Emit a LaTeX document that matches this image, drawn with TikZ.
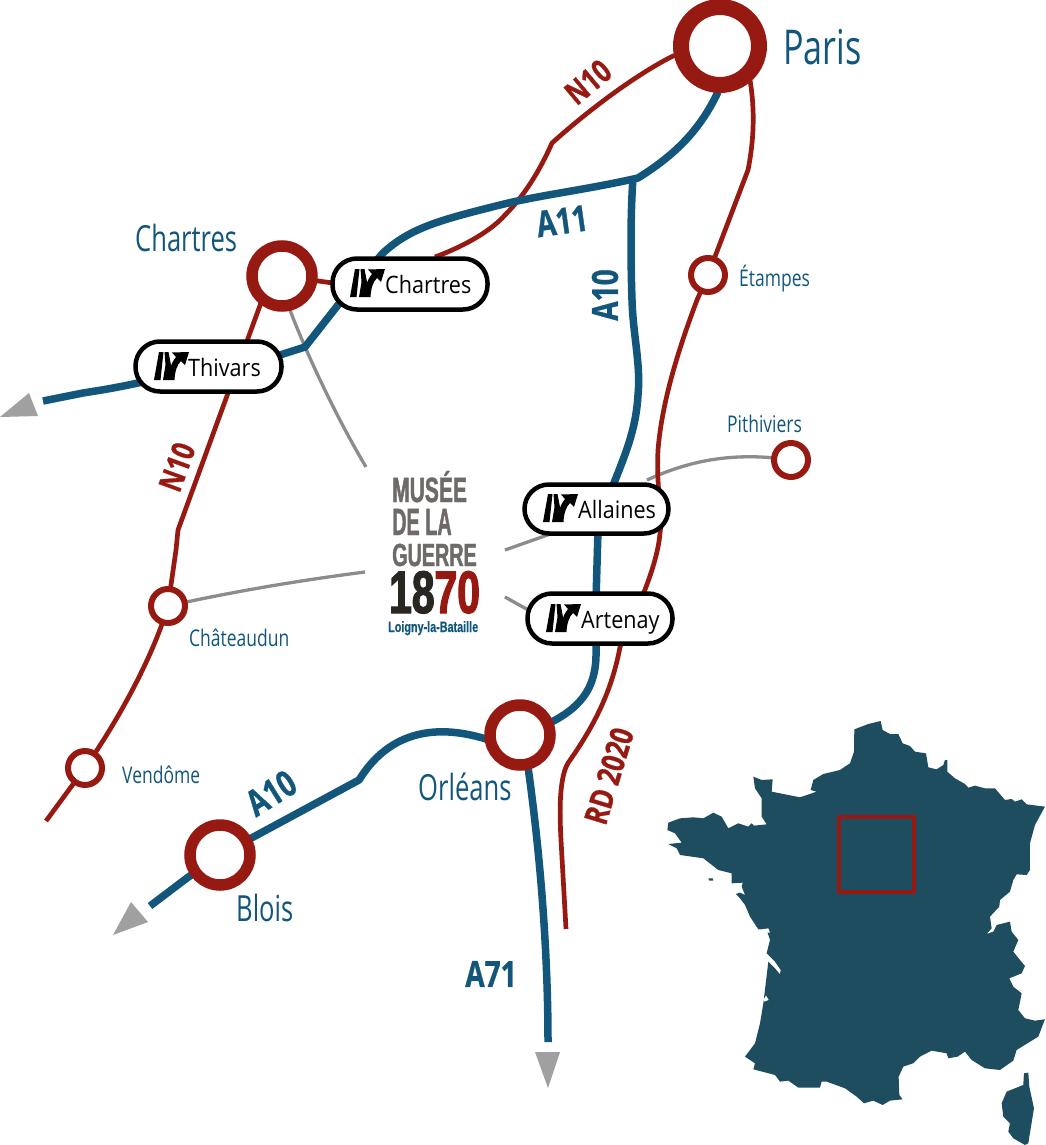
\documentclass[tikz,border=0pt]{standalone}
\usepackage{graphicx}
\usepackage{fontspec}
\setmainfont{Open Sans}
\newfontfamily\condf[FakeStretch=0.71]{Open Sans}
\newfontfamily\smallf[FakeStretch=0.76]{Open Sans}
\newfontfamily\roadf[FakeStretch=0.78,FakeBold=0.8]{Open Sans}
\newfontfamily\pillf[FakeStretch=0.9]{Open Sans}
\newfontfamily\logof[FakeStretch=0.6,FakeBold=1.2]{Liberation Sans}
\newfontfamily\logot[FakeStretch=0.72,FakeBold=0.6]{Liberation Sans}
\newfontfamily\logonum[FakeStretch=0.68,FakeBold=2]{Liberation Sans}
\definecolor{rred}{HTML}{971A12}
\definecolor{rblue}{HTML}{12567C}
\definecolor{mapblue}{HTML}{1E4D60}
\definecolor{lgrey}{HTML}{8C8C8C}
\definecolor{agrey}{HTML}{A0A0A0}
\definecolor{logog}{HTML}{6D6A68}
\definecolor{logok}{HTML}{2A2622}
\tikzset{
 bluer/.style={draw=rblue,line width=7.5pt,line join=round},
 redr/.style={draw=rred,line width=4.7pt,line join=round},
 greyr/.style={draw=lgrey,line width=3.3pt},
 bigcity/.style={circle,draw=rred,fill=white,line width=11.5pt,minimum size=60pt,inner sep=0pt},
 hugecity/.style={circle,draw=rred,fill=white,line width=16pt,minimum size=78pt,inner sep=0pt},
 smallcity/.style={circle,draw=rred,fill=white,line width=6pt,minimum size=34pt,inner sep=0pt},
 pill/.style={draw=black,fill=white,line width=4.5pt,rounded corners=24.5pt,inner sep=0pt},
 pilltext/.style={font=\pillf\fontsize{24}{24}\selectfont,inner sep=0pt,anchor=base west,text=black},
 citylabel/.style={font=\condf\fontsize{36}{36}\selectfont,text=rblue,inner sep=0pt},
 smalllabel/.style={font=\smallf\fontsize{23}{23}\selectfont,text=rblue,inner sep=0pt},
 roadb/.style={font=\roadf\bfseries\fontsize{36}{36}\selectfont,text=rblue,inner sep=0pt},
 roadr/.style={font=\roadf\bfseries\fontsize{32}{32}\selectfont,text=rred,inner sep=0pt},
 tip/.style={fill=agrey,draw=none},
 logol/.style={inner sep=0pt,anchor=base west},
 exiticon/.pic={
  \fill[black] (5,0)--(9.5,0)--(6.5,28)--(0,28)--cycle;
  \fill[black] (10.5,0)--(14.5,0)--(17,13)--(16,28)--(9,28)--(11.5,13)--cycle;
  \fill[black] (18,0.5)--(35,0)--(31,13)--(27,9)..controls (23,13) and (21,19)..(20.5,28)--(16,28)--(16,18)..controls (17,12) and (19,9)..(22,5)--cycle;
 }
}
\begin{document}
\begin{tikzpicture}[x=1pt,y=-1pt]
\useasboundingbox (0,0) rectangle (1046,1145);

% France
\begin{scope}[shift={(660,710)},x=0.3333pt,y=-0.3333pt]
\fill[mapblue] (583,58)--(625,42)--(662,33)--(668,60)--(690,72)--(715,72)--(728,100)--(750,108)--(765,125)--(798,130)--(805,172)--(830,178)--(850,165)--(855,150)--(862,150)--(862,185)--(885,205)--(915,222)--(925,233)--(945,227)--(975,235)--(1005,235)--(1035,270)--(1055,267)--(1065,275)--(1085,268)--(1100,283)--(1155,290)--(1125,345)--(1110,400)--(1110,480)--(1100,495)--(1070,493)--(1060,510)--(1050,545)--(1020,570)--(1018,590)--(990,620)--(995,655)--(980,672)--(1000,665)--(1010,645)--(1050,635)--(1055,665)--(1075,690)--(1060,725)--(1080,750)--(1095,768)--(1085,790)--(1048,805)--(1060,830)--(1085,850)--(1075,900)--(1095,925)--(1125,932)--(1155,928)--(1135,980)--(1070,1020)--(1060,1052)--(1020,1080)--(975,1075)--(935,1050)--(915,1025)--(893,1040)--(865,1045)--(860,1030)--(815,1022)--(780,1040)--(760,1060)--(730,1070)--(716,1100)--(718,1155)--(728,1168)--(690,1172)--(668,1185)--(640,1172)--(612,1180)--(590,1160)--(555,1135)--(500,1115)--(485,1115)--(480,1133)--(415,1133)--(385,1112)--(360,1115)--(345,1095)--(295,1082)--(280,1078)--(285,1060)--(255,1040)--(285,1000)--(300,940)--(310,880)--(325,755)--(345,775)--(360,793)--(362,780)--(345,755)--(320,730)--(330,690)--(320,660)--(295,658)--(270,620)--(255,585)--(240,565)--(228,552)--(240,548)--(255,555)--(245,530)--(248,518)--(215,520)--(215,490)--(175,480)--(130,445)--(60,435)--(50,415)--(25,402)--(65,398)--(45,370)--(22,360)--(25,338)--(60,325)--(100,322)--(130,325)--(160,308)--(185,320)--(205,355)--(235,340)--(265,350)--(275,340)--(282,347)--(320,343)--(305,320)--(305,265)--(285,235)--(280,200)--(305,210)--(338,208)--(335,245)--(350,248)--(420,262)--(470,245)--(452,240)--(460,210)--(490,192)--(540,180)--(570,160)--(582,125)--cycle;
\fill[mapblue] (1092,1090)--(1105,1088)--(1108,1130)--(1122,1195)--(1105,1300)--(1095,1305)--(1060,1285)--(1045,1265)--(1050,1240)--(1030,1220)--(1025,1180)--(1040,1145)--(1090,1125)--cycle;
\fill[mapblue] (145,505)--(158,505)--(160,512)--(148,512)--cycle;
\fill[white] (310,870)--(318,857)--(326,870)--(312,875)--cycle;
\fill[white] (295,660)--(325,655)--(330,668)--(308,668)--cycle;
\draw[rred,line width=4pt] (538,322) rectangle (761,545);
\end{scope}

% Named places
\coordinate (parisC) at (720,46);
\coordinate (chartresC) at (282,276);
\coordinate (orleansC) at (520,735);
\coordinate (bloisC) at (220,855);
\coordinate (etampesC) at (708,275);
\coordinate (pithC) at (791,460);
\coordinate (chatC) at (168,606);
\coordinate (vendC) at (85,768);
\coordinate (a11a10) at (638,178);
\coordinate (endA11) at (43,401);
\coordinate (endA10) at (150,906);
\coordinate (endA71) at (548,1042);
\coordinate (endN10) at (46,821);
\coordinate (endRD) at (566,929);

% grey links
\draw[greyr] (chartresC)--(290,310) .. controls (305,350) and (335,415) .. (366,467);
\draw[greyr] (505,550)--(556,532);
\draw[greyr] (chatC) .. controls (240,590) and (310,579) .. (365,572);
\draw[greyr] (505,597)--(530,611);
\draw[greyr] (647,480) .. controls (680,465) and (725,450) .. (pithC);

% red roads
\draw[redr] (parisC)--(673,56) .. controls (645,70) and (600,100) .. (552,143)
   .. controls (540,170) and (525,195) .. (505,215) .. controls (490,232) and (462,247) .. (435,257);
\draw[redr] (750,80) .. controls (755,110) and (754,140) .. (748,170) -- (etampesC) -- (697,300)
   .. controls (680,345) and (662,400) .. (658,450) .. controls (656,490) and (663,515) .. (660,533)
   .. controls (657,570) and (632,620) .. (620,647) .. controls (612,690) and (595,725) .. (568,763)
   .. controls (558,780) and (560,820) .. (561,840) -- (endRD);
\draw[redr] (chartresC)--(262,300)--(178,530)--(176,550)--(chatC)
   .. controls (155,650) and (125,710) .. (vendC)--(endN10);
\draw[redr] (chartresC)--(340,284);

% blue roads
\draw[bluer] (718,92) .. controls (700,130) and (675,155) .. (a11a10)
   .. controls (585,190) and (540,195) .. (500,205) .. controls (440,220) and (410,228) .. (383,253)
   -- (338,305) -- (305,347) -- (280,355) -- (138,383) .. controls (110,389) and (95,391) .. (83,393) -- (endA11);
\draw[bluer] (633,178) .. controls (630,220) and (631,270) .. (632,300) .. controls (633,335) and (641,365) .. (638,395)
   .. controls (636,430) and (625,455) .. (612,488) -- (598,530) -- (596,600) -- (596,650)
   .. controls (597,690) and (580,715) .. (orleansC);
\draw[bluer] (orleansC)--(486,739) .. controls (450,728) and (395,722) .. (359,780) -- (bloisC) -- (187,878) -- (endA10);
\draw[bluer] (orleansC)--(527,760) .. controls (540,850) and (548,950) .. (endA71);

% arrow tips
\fill[tip] (0,417)--(38,416)--(29,393)--cycle;
\fill[tip] (113,935)--(148,922)--(131,902)--cycle;
\fill[tip] (535,1052)--(560,1052)--(548,1088)--cycle;

% cities
\node[hugecity] (paris) at (parisC) {};
\node[bigcity] (chartres) at (chartresC) {};
\node[bigcity] (orleans) at (orleansC) {};
\node[bigcity] (blois) at (bloisC) {};
\node[smallcity] (etampes) at (etampesC) {};
\node[smallcity] (pith) at (pithC) {};
\node[smallcity] (chat) at (chatC) {};
\node[smallcity] (vend) at (vendC) {};

% exits
\node[pill,minimum width=155pt,minimum height=51pt] (xchartres) at (410,284) {};
\node[pill,minimum width=146pt,minimum height=50pt] (xthivars) at (208.5,366.5) {};
\node[pill,minimum width=144pt,minimum height=49pt] (xallaines) at (596.5,509) {};
\node[pill,minimum width=145pt,minimum height=50pt] (xartenay) at (600,618.5) {};
\pic at (350,269) {exiticon};
\pic at (154,352) {exiticon};
\pic at (543,494) {exiticon};
\pic at (546,604) {exiticon};
\node[pilltext] (tchartres) at (385,293) {Chartres};
\node[pilltext] (tthivars) at (188,376) {Thivars};
\node[pilltext] (tallaines) at (578,518) {Allaines};
\node[pilltext] (tartenay) at (581,628) {Artenay};

% labels
\node[citylabel,font=\condf\fontsize{48}{48}\selectfont,anchor=base west] (lparis) at (783,65) {Paris};
\node[citylabel,anchor=base west] (lchartres) at (135,251) {Chartres};
\node[citylabel,anchor=base west] (lorleans) at (418,800) {Orléans};
\node[citylabel,anchor=base west] (lblois) at (236,921) {Blois};
\node[smalllabel,anchor=base west] (letampes) at (739,286) {Étampes};
\node[smalllabel,anchor=base west] (lpith) at (727,432) {Pithiviers};
\node[smalllabel,anchor=base west] (lchat) at (189,646) {Châteaudun};
\node[smalllabel,anchor=base west] (lvend) at (122,783) {Vendôme};

% road labels
\node[roadr,rotate=40] (n10a) at (588,82) {N10};
\node[roadr,rotate=70] (n10b) at (177,467) {N10};
\node[roadb,rotate=8] (a11) at (562,221) {A11};
\node[roadb,rotate=90] (a10a) at (605,295) {A10};
\node[roadb,rotate=32] (a10b) at (271,793) {A10};
\node[roadb] (a71) at (491,974) {A71};
\node[roadr,rotate=73] (rd) at (609,776) {RD 2020};

% logo
\node[logol,font=\logof\bfseries\fontsize{35}{35}\selectfont,text=logog] (m1) at (392,502) {MUSÉE};
\node[logol,font=\logof\bfseries\fontsize{38}{38}\selectfont,text=logog] (m2) at (392,535) {\scalebox{0.87}[1]{DE LA}};
\node[logol,font=\logof\bfseries\fontsize{32}{32}\selectfont,text=logog] (m3) at (392,566) {\scalebox{1.03}[1]{GUERRE}};
\node[logol,font=\logonum\bfseries\fontsize{60}{60}\selectfont,text=logok] (m4) at (389,613) {18\textcolor{rred}{70}};
\node[logol,font=\logot\bfseries\fontsize{15}{15}\selectfont,text=rblue] (m5) at (388,632) {Loigny-la-Bataille};
\end{tikzpicture}
\end{document}
